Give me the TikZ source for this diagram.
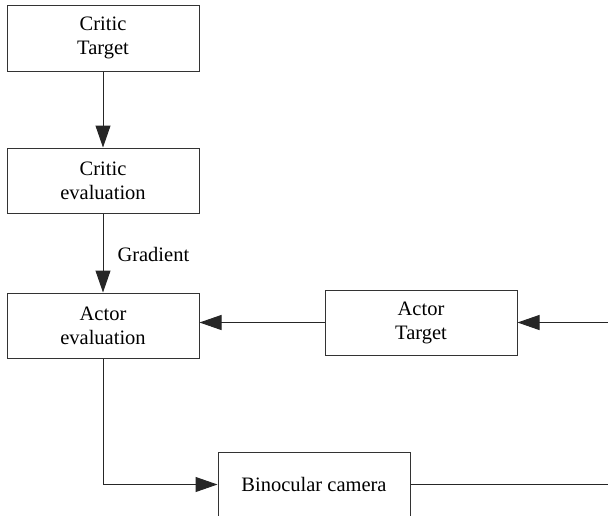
\documentclass[tikz,border=0pt]{standalone}
\usepackage{fontspec}
\setmainfont{Liberation Serif}
\usetikzlibrary{arrows.meta}
\begin{document}
\begin{tikzpicture}[x=1pt,y=-1pt,
  txt/.style={font=\fontsize{20.5}{24}\selectfont},
  blk/.style={txt,draw=black!80,line width=1pt,minimum width=192pt,minimum height=65pt,align=center,inner sep=0pt},
  conn/.style={draw=black!85,line width=1pt},
  arr/.style={conn,-{Triangle[length=22pt,width=15pt]}}]
\useasboundingbox (0,0) rectangle (608,515);
\clip (0,0) rectangle (608,515);
\node[blk,minimum height=66pt] (ct) at (103,38) {Critic\\Target};
\node[blk] (ce) at (103,180.5) {Critic\\evaluation};
\node[blk] (ae) at (103,325.5) {Actor\\evaluation};
\node[blk] (at) at (421,322.5) {Actor\\Target};
\node[blk] (bc) at (314,484.5) {Binocular camera};
\coordinate (r1) at (609,322.5);
\coordinate (r2) at (609,484.5);
\coordinate (bend) at (ae.south |- bc.west);
\draw[arr] (ct) -- (ce);
\draw[arr] (ce) -- node[right=14pt,txt,inner sep=0pt,yshift=-1pt] {Gradient} (ae);
\draw[arr] (at) -- (ae.east |- at.west);
\draw[arr] (r1) -- (at);
\draw[arr] (ae.south) -- (bend) -- (bc.west);
\draw[conn] (bc.east) -- (r2);
\end{tikzpicture}
\end{document}
